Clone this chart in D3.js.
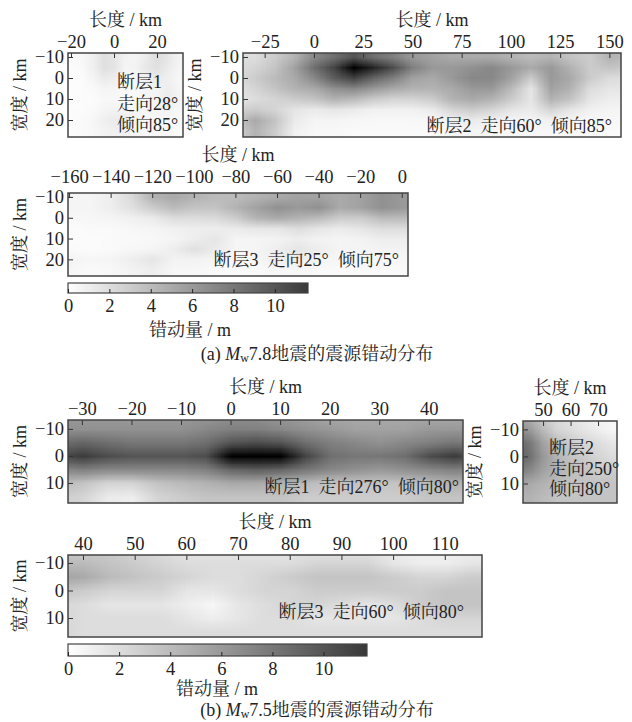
<!DOCTYPE html>
<html>
<head>
<meta charset="utf-8">
<script src="https://cdn.jsdelivr.net/npm/d3@7"></script>
<style>
    body { margin: 0; background: #fff; }
    svg text {
        font-family: "Liberation Serif", "Times New Roman", "Noto Serif CJK SC", "Noto Sans CJK SC", serif;
        font-size: 18px;
        fill: #222;
    }
    svg .tick text { font-size: 18.5px; }
</style>
</head>
<body>
<div class="canvas"></div>
<script>

// ---- data (slip in m, rows = width nodes, cols = length nodes) ----

const a1X = [-20, -15, -10, -5, 0, 5, 10, 15, 20, 25, 30];
const a1Y = [-10, -5, 0, 5, 10, 15, 20, 25, 30];
const a1Slip = [
    [0.3, 0.4, 0.9, 1.8, 1.5, 0.7, 0.6, 1.2, 2.0, 1.4, 0.7],
    [0.2, 0.3, 0.9, 1.8, 1.6, 0.6, 0.7, 1.4, 1.8, 1.2, 0.6],
    [0.2, 0.2, 0.6, 1.2, 1.0, 0.5, 0.5, 0.9, 1.2, 0.9, 0.5],
    [0.1, 0.2, 0.3, 0.6, 0.6, 0.4, 0.4, 0.6, 0.7, 1.0, 0.6],
    [0.1, 0.2, 0.2, 0.4, 0.4, 0.3, 0.3, 0.6, 0.7, 1.2, 0.7],
    [0.2, 0.2, 0.3, 0.6, 0.7, 0.6, 0.5, 0.6, 0.6, 0.7, 0.5],
    [0.2, 0.3, 0.5, 0.9, 1.2, 1.2, 0.7, 0.5, 0.5, 0.5, 0.4],
    [0.2, 0.3, 0.4, 0.7, 0.9, 0.8, 0.6, 0.4, 0.4, 0.4, 0.3],
    [0.2, 0.3, 0.4, 0.7, 0.9, 0.8, 0.6, 0.4, 0.4, 0.4, 0.3]
];

const a2X = [-40, -30, -20, -10, 0, 10, 20, 30, 40, 50, 60, 70, 80, 90, 100, 110, 120, 130, 140, 150, 160];
const a2Y = [-10, -5, 0, 5, 10, 15, 20, 25, 30];
const a2Slip = [
    [2.0, 2.0, 3.0, 4.5, 7.0, 8.5, 10.0, 8.5, 7.5, 6.0, 5.5, 5.0, 5.0, 5.0, 4.5, 4.0, 4.5, 3.5, 3.0, 4.5, 4.0],
    [2.0, 2.5, 3.5, 5.5, 8.5, 11.0, 15.0, 12.5, 10.5, 7.5, 6.0, 6.0, 6.5, 7.0, 6.0, 5.0, 6.0, 4.5, 3.0, 3.5, 3.0],
    [2.0, 3.0, 4.0, 5.0, 7.0, 9.5, 11.0, 9.0, 7.5, 5.5, 5.0, 6.0, 7.0, 7.0, 5.5, 3.0, 6.0, 5.0, 3.0, 2.0, 2.0],
    [1.5, 2.5, 3.5, 4.5, 5.0, 6.5, 7.0, 6.0, 5.0, 4.5, 4.5, 5.0, 6.0, 6.0, 4.0, 1.5, 5.5, 4.5, 2.0, 1.5, 1.5],
    [1.5, 2.0, 2.5, 3.0, 3.5, 4.5, 4.0, 3.0, 2.5, 2.5, 3.0, 4.5, 5.0, 4.5, 3.0, 1.5, 4.5, 3.5, 1.5, 1.0, 1.0],
    [2.5, 3.0, 2.5, 1.5, 1.2, 1.5, 1.2, 0.8, 0.8, 0.8, 1.2, 2.5, 3.0, 2.5, 1.5, 1.2, 2.5, 1.5, 0.8, 0.6, 0.6],
    [3.5, 5.0, 3.5, 1.2, 0.6, 0.6, 0.5, 0.4, 0.4, 0.4, 0.5, 0.8, 1.2, 0.8, 0.6, 0.6, 0.8, 0.6, 0.4, 0.4, 0.4],
    [2.5, 4.5, 3.0, 0.8, 0.4, 0.4, 0.3, 0.3, 0.3, 0.3, 0.3, 0.5, 0.6, 0.5, 0.5, 0.5, 0.4, 0.4, 0.3, 0.3, 0.3],
    [2.5, 4.5, 3.0, 0.8, 0.4, 0.4, 0.3, 0.3, 0.3, 0.3, 0.3, 0.5, 0.6, 0.5, 0.5, 0.5, 0.4, 0.4, 0.3, 0.3, 0.3]
];

const a3X = [-160, -150, -140, -130, -120, -110, -100, -90, -80, -70, -60, -50, -40, -30, -20, -10, 0];
const a3Y = [-10, -5, 0, 5, 10, 15, 20, 25, 30];
const a3Slip = [
    [0.6, 0.6, 1.0, 2.2, 4.5, 5.0, 4.5, 4.0, 4.0, 4.5, 5.0, 5.5, 5.5, 5.0, 5.5, 6.5, 6.0],
    [0.6, 0.6, 1.0, 1.8, 3.0, 4.0, 3.5, 3.5, 4.5, 5.5, 6.5, 6.0, 6.5, 5.0, 5.5, 6.5, 6.0],
    [0.4, 0.5, 0.6, 0.8, 1.2, 2.0, 2.0, 2.2, 3.0, 4.5, 5.0, 4.5, 4.0, 3.0, 3.0, 4.0, 4.0],
    [0.2, 0.3, 0.3, 0.5, 0.6, 0.8, 1.0, 1.0, 1.2, 1.5, 1.5, 2.0, 1.5, 1.2, 1.5, 2.0, 2.0],
    [0.2, 0.2, 0.3, 0.3, 0.4, 0.6, 1.0, 1.5, 0.6, 0.6, 0.7, 1.0, 0.7, 0.6, 0.7, 1.0, 1.0],
    [0.3, 0.2, 0.3, 0.5, 0.6, 1.0, 1.8, 1.2, 0.6, 0.6, 1.0, 1.5, 1.0, 0.6, 0.6, 0.7, 0.7],
    [0.7, 0.5, 0.6, 1.0, 1.5, 0.7, 0.7, 0.6, 0.5, 0.5, 1.0, 1.0, 0.6, 0.5, 0.5, 0.5, 0.5],
    [0.5, 0.3, 0.4, 0.7, 1.0, 0.5, 0.5, 0.3, 0.3, 0.3, 0.5, 0.5, 0.3, 0.3, 0.3, 0.3, 0.3],
    [0.5, 0.3, 0.4, 0.7, 1.0, 0.5, 0.5, 0.3, 0.3, 0.3, 0.5, 0.5, 0.3, 0.3, 0.3, 0.3, 0.3]
];

const b1X = [-35, -30, -25, -20, -15, -10, -5, 0, 5, 10, 15, 20, 25, 30, 35, 40, 45, 50];
const b1Y = [-15, -10, -5, 0, 5, 10, 15, 20];
const b1Slip = [
    [6.0, 6.0, 6.0, 6.0, 6.0, 6.0, 6.0, 6.5, 6.5, 6.0, 5.5, 5.0, 5.0, 5.0, 5.0, 5.0, 5.0, 5.0],
    [6.5, 6.5, 6.5, 6.5, 6.5, 6.5, 7.0, 7.5, 7.5, 7.0, 6.5, 6.0, 5.5, 5.5, 5.5, 6.0, 6.0, 6.0],
    [8.5, 9.0, 8.5, 8.0, 8.0, 8.0, 8.5, 10.0, 10.5, 10.0, 8.5, 7.5, 7.0, 6.5, 7.0, 7.5, 8.0, 7.5],
    [10.5, 11.5, 10.5, 10.0, 10.0, 10.0, 10.5, 14.0, 15.0, 14.0, 11.0, 8.5, 8.0, 8.0, 8.5, 10.5, 11.5, 10.5],
    [7.0, 7.5, 7.0, 7.0, 7.0, 7.0, 7.5, 9.0, 9.5, 9.0, 8.0, 7.0, 6.5, 6.0, 6.5, 7.0, 7.5, 7.0],
    [4.0, 3.5, 2.5, 2.5, 3.5, 4.0, 4.5, 5.0, 5.0, 4.5, 4.0, 3.5, 3.5, 3.5, 3.5, 4.0, 4.5, 4.5],
    [3.0, 2.5, 1.2, 1.0, 2.5, 3.0, 3.5, 3.5, 3.5, 3.5, 3.0, 3.0, 3.0, 3.0, 3.0, 3.5, 3.5, 3.5],
    [3.0, 2.5, 1.2, 1.0, 2.5, 3.0, 3.5, 3.5, 3.5, 3.5, 3.0, 3.0, 3.0, 3.0, 3.0, 3.5, 3.5, 3.5]
];

const b2X = [40, 45, 50, 55, 60, 65, 70, 75, 80];
const b2Y = [-15, -10, -5, 0, 5, 10, 15, 20];
const b2Slip = [
    [5.5, 4.5, 3.0, 2.0, 1.5, 1.0, 0.5, 0.5, 0.5],
    [7.0, 6.0, 4.0, 2.5, 2.0, 1.5, 1.0, 0.5, 0.5],
    [9.0, 8.0, 5.5, 4.0, 3.0, 2.5, 2.0, 1.5, 1.5],
    [9.5, 8.5, 6.0, 4.5, 3.5, 3.0, 2.5, 2.0, 2.0],
    [8.0, 7.0, 5.5, 4.5, 4.0, 3.5, 3.0, 3.0, 3.0],
    [5.5, 5.0, 4.5, 4.0, 3.5, 3.5, 3.5, 3.5, 3.5],
    [4.5, 4.5, 4.0, 3.5, 3.5, 3.5, 3.5, 3.5, 3.5],
    [4.5, 4.5, 4.0, 3.5, 3.5, 3.5, 3.5, 3.5, 3.5]
];

const b3X = [35, 40, 45, 50, 55, 60, 65, 70, 75, 80, 85, 90, 95, 100, 105, 110, 115, 120];
const b3Y = [-15, -10, -5, 0, 5, 10, 15, 20];
const b3Slip = [
    [3.0, 3.0, 3.0, 2.5, 2.0, 1.5, 1.5, 1.5, 1.5, 1.5, 1.5, 1.5, 1.5, 1.0, 1.0, 1.0, 1.0, 1.0],
    [4.0, 4.0, 3.5, 3.0, 2.5, 2.0, 2.0, 2.0, 2.0, 2.0, 2.5, 2.5, 2.5, 1.5, 1.0, 1.0, 1.5, 1.5],
    [5.5, 5.0, 4.0, 3.5, 3.0, 2.5, 2.0, 2.0, 2.5, 3.0, 3.5, 3.5, 3.5, 3.0, 2.5, 2.5, 3.0, 3.0],
    [3.5, 3.0, 2.5, 2.5, 2.5, 1.5, 1.5, 2.0, 2.5, 2.5, 3.0, 3.0, 3.0, 3.0, 3.0, 3.5, 3.5, 3.5],
    [2.5, 2.0, 1.5, 1.5, 1.5, 1.0, 0.5, 1.5, 2.0, 2.5, 2.5, 2.0, 1.5, 2.0, 3.0, 3.5, 3.5, 3.5],
    [2.5, 2.0, 2.0, 2.0, 2.0, 1.5, 1.0, 1.5, 2.0, 2.0, 1.5, 1.5, 1.5, 1.5, 2.0, 2.5, 2.5, 2.5],
    [2.5, 2.0, 2.0, 2.0, 2.0, 2.0, 2.0, 2.0, 2.0, 2.0, 2.0, 2.0, 2.0, 2.0, 2.0, 2.0, 2.0, 2.0],
    [2.5, 2.0, 2.0, 2.0, 2.0, 2.0, 2.0, 2.0, 2.0, 2.0, 2.0, 2.0, 2.0, 2.0, 2.0, 2.0, 2.0, 2.0]
];

// tick labels
const a1Ticks = [-20, 0, 20];
const a2Ticks = [-25, 0, 25, 50, 75, 100, 125, 150];
const a3Ticks = [-160, -140, -120, -100, -80, -60, -40, -20, 0];
const aWidthTicks = [-10, 0, 10, 20];
const b1Ticks = [-30, -20, -10, 0, 10, 20, 30, 40];
const b2Ticks = [50, 60, 70];
const b3Ticks = [40, 50, 60, 70, 80, 90, 100, 110];
const bWidthTicks = [-10, 0, 10];
const slipTicks = [0, 2, 4, 6, 8, 10];

// ---- chart ----

const svg = d3.select('.canvas')
                .append('svg')
                .attr('width', 632)
                .attr('height', 722);

const color = d3.scaleLinear()
                .domain([0, 11.6, 14])
                .range(['#ffffff', '#3a3a3a', '#000000'])
                .clamp(true);

const fmt = d3.format('d');

const drawPanel = (p) => {

    const x = d3.scaleLinear().domain(p.xDomain).range([p.left, p.right]);
    const y = d3.scaleLinear().domain(p.yDomain).range([p.top, p.bottom]);
    const pad = p.topPad || 5;

    svg.append('clipPath')
        .attr('id', 'clip-' + p.name)
        .append('rect')
            .attr('x', p.left)
            .attr('y', p.top)
            .attr('width', p.right - p.left)
            .attr('height', p.bottom - p.top);

    // slip grid -> small bitmap, smoothed by the browser when scaled up
    const nx = p.xs.length, ny = p.ys.length;
    const canvas = document.createElement('canvas');
    canvas.width = nx;
    canvas.height = ny;
    const ctx = canvas.getContext('2d');
    const img = ctx.createImageData(nx, ny);
    p.slip.forEach((row, j) => {
        row.forEach((v, i) => {
            const c = d3.rgb(color(v));
            const k = 4 * (j * nx + i);
            img.data[k] = c.r;
            img.data[k + 1] = c.g;
            img.data[k + 2] = c.b;
            img.data[k + 3] = 255;
        });
    });
    ctx.putImageData(img, 0, 0);

    const dx = p.xs[1] - p.xs[0], dy = p.ys[1] - p.ys[0];
    const x0 = x(p.xs[0] - dx / 2), x1 = x(p.xs[nx - 1] + dx / 2);
    const y0 = y(p.ys[0] - dy / 2), y1 = y(p.ys[ny - 1] + dy / 2);

    svg.append('image')
        .attr('clip-path', `url(#clip-${p.name})`)
        .attr('href', canvas.toDataURL())
        .attr('x', x0)
        .attr('y', y0)
        .attr('width', x1 - x0)
        .attr('height', y1 - y0)
        .attr('preserveAspectRatio', 'none');

    // axes, ticks pointing inward
    svg.append('g')
        .attr('transform', `translate(0, ${p.top})`)
        .attr('color', '#333')
        .call(d3.axisTop(x).tickValues(p.xTicks).tickSize(-5).tickPadding(pad).tickFormat(fmt))
        .call(g => g.select('.domain').remove());

    svg.append('g')
        .attr('transform', `translate(${p.left}, 0)`)
        .attr('color', '#333')
        .call(d3.axisLeft(y).tickValues(p.yTicks).tickSize(-5).tickPadding(4).tickFormat(fmt))
        .call(g => g.select('.domain').remove());

    svg.append('rect')
        .attr('x', p.left)
        .attr('y', p.top)
        .attr('width', p.right - p.left)
        .attr('height', p.bottom - p.top)
        .attr('fill', 'none')
        .attr('stroke', '#444')
        .attr('stroke-width', 1.5);

    svg.append('text')
        .attr('x', (p.left + p.right) / 2)
        .attr('y', p.top - 28 - pad)
        .attr('text-anchor', 'middle')
        .attr('dominant-baseline', 'central')
        .text('长度 / km');

    svg.append('text')
        .attr('transform', `translate(${p.left - 48}, ${(p.top + p.bottom) / 2}) rotate(-90)`)
        .attr('text-anchor', 'middle')
        .attr('dominant-baseline', 'central')
        .text('宽度 / km');

    p.notes.forEach(n => {
        svg.append('text')
            .attr('x', n.x)
            .attr('y', n.y)
            .attr('text-anchor', n.anchor)
            .attr('dominant-baseline', 'central')
            .attr('xml:space', 'preserve')
            .text(n.text);
    });
};

const drawBar = (b) => {

    const x = d3.scaleLinear().domain([0, b.max]).range([b.left, b.right]);
    const id = 'grad-' + b.name;

    const grad = svg.append('defs')
                    .append('linearGradient')
                    .attr('id', id);
    grad.append('stop').attr('offset', '0%').attr('stop-color', color(0));
    grad.append('stop').attr('offset', '100%').attr('stop-color', color(b.max));

    svg.append('rect')
        .attr('x', b.left)
        .attr('y', b.top)
        .attr('width', b.right - b.left)
        .attr('height', b.height)
        .attr('fill', `url(#${id})`)
        .attr('stroke', '#444')
        .attr('stroke-width', 1.2);

    svg.append('g')
        .attr('transform', `translate(0, ${b.top + b.height})`)
        .attr('color', '#222')
        .call(d3.axisBottom(x).tickValues(slipTicks).tickSize(-4).tickPadding(6).tickFormat(fmt))
        .call(g => g.select('.domain').remove());

    svg.append('text')
        .attr('x', b.labelX)
        .attr('y', b.labelY)
        .attr('text-anchor', 'middle')
        .attr('dominant-baseline', 'central')
        .text('错动量 / m');
};

const caption = (tag, mag, cy) => {
    const t = svg.append('text')
                    .attr('x', 317)
                    .attr('y', cy)
                    .attr('text-anchor', 'middle')
                    .attr('dominant-baseline', 'central');
    t.append('tspan').text(`(${tag}) `);
    t.append('tspan').attr('font-style', 'italic').text('M');
    t.append('tspan').attr('dy', 4).style('font-size', '12px').text('w');
    t.append('tspan').attr('dy', -4).text(`${mag}地震的震源错动分布`);
};

// (a)
drawPanel({
    name: 'a1', xs: a1X, ys: a1Y, slip: a1Slip,
    left: 68, right: 183, top: 53, bottom: 137,
    xDomain: [-21.4, 32.1], yDomain: [-11.9, 28.1],
    xTicks: a1Ticks, yTicks: aWidthTicks,
    notes: [
        { text: '断层1', x: 117, y: 82, anchor: 'start' },
        { text: '走向28°', x: 117, y: 104, anchor: 'start' },
        { text: '倾向85°', x: 117, y: 125, anchor: 'start' }
    ]
});

drawPanel({
    name: 'a2', xs: a2X, ys: a2Y, slip: a2Slip,
    left: 243, right: 621, top: 53, bottom: 137,
    xDomain: [-36, 155.9], yDomain: [-11.9, 28.1],
    xTicks: a2Ticks, yTicks: aWidthTicks,
    notes: [
        { text: '断层2  走向60°  倾向85°', x: 612, y: 126, anchor: 'end' }
    ]
});

drawPanel({
    name: 'a3', xs: a3X, ys: a3Y, slip: a3Slip,
    left: 68, right: 408, top: 193, bottom: 276,
    xDomain: [-160.5, 3], yDomain: [-11.9, 28],
    xTicks: a3Ticks, yTicks: aWidthTicks, topPad: 10,
    notes: [
        { text: '断层3  走向25°  倾向75°', x: 399, y: 260, anchor: 'end' }
    ]
});

drawBar({ name: 'a', left: 68, right: 308, top: 283, height: 10, max: 11.6, labelX: 190, labelY: 330 });
caption('a', '7.8', 354);

// (b)
drawPanel({
    name: 'b1', xs: b1X, ys: b1Y, slip: b1Slip,
    left: 68, right: 463, top: 420, bottom: 503,
    xDomain: [-32.8, 46.9], yDomain: [-13.3, 17.4],
    xTicks: b1Ticks, yTicks: bWidthTicks,
    notes: [
        { text: '断层1  走向276°  倾向80°', x: 459, y: 487, anchor: 'end' }
    ]
});

drawPanel({
    name: 'b2', xs: b2X, ys: b2Y, slip: b2Slip,
    left: 523, right: 617, top: 421, bottom: 503,
    xDomain: [42.7, 76.9], yDomain: [-13.1, 17.2],
    xTicks: b2Ticks, yTicks: bWidthTicks,
    notes: [
        { text: '断层2', x: 549, y: 448, anchor: 'start' },
        { text: '走向250°', x: 549, y: 469, anchor: 'start' },
        { text: '倾向80°', x: 549, y: 489, anchor: 'start' }
    ]
});

drawPanel({
    name: 'b3', xs: b3X, ys: b3Y, slip: b3Slip,
    left: 68, right: 482, top: 555, bottom: 637,
    xDomain: [37.1, 117.2], yDomain: [-12.9, 16.9],
    xTicks: b3Ticks, yTicks: bWidthTicks,
    notes: [
        { text: '断层3  走向60°  倾向80°', x: 464, y: 612, anchor: 'end' }
    ]
});

drawBar({ name: 'b', left: 68, right: 367, top: 644, height: 12, max: 11.7, labelX: 217, labelY: 689 });
caption('b', '7.5', 710);

</script>
</body>
</html>
